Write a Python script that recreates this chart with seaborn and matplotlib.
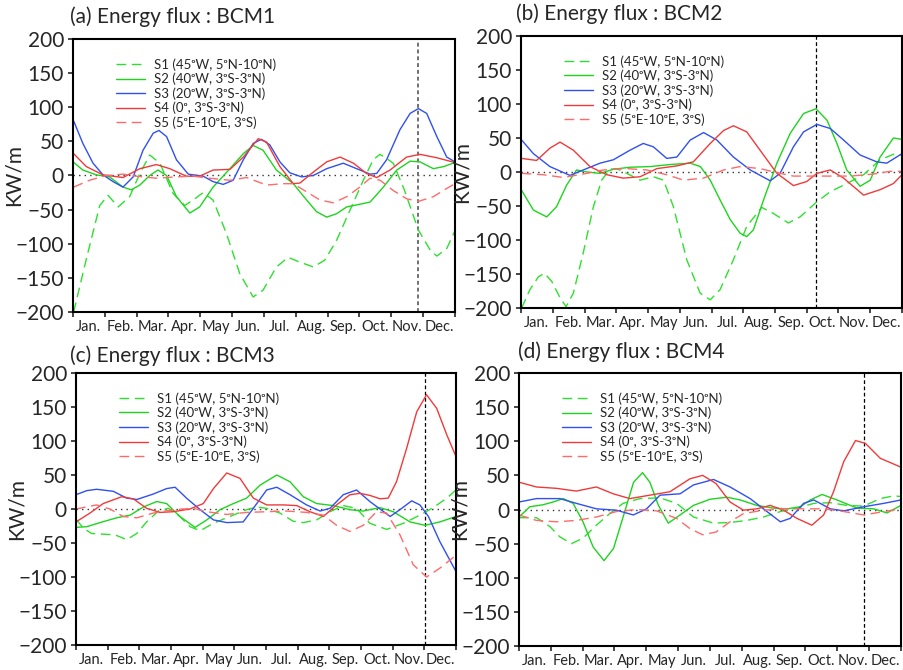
import matplotlib
matplotlib.use("Agg")
import matplotlib.pyplot as plt
import numpy as np
import pandas as pd
import seaborn as sns

sns.set_style("ticks")
plt.rcParams['font.family'] = ['Lato', 'DejaVu Sans']

# ---- data: (month position, KW/m) ----
months = ['Jan.', 'Feb.', 'Mar.', 'Apr.', 'May', 'Jun.', 'Jul.', 'Aug.', 'Sep.', 'Oct.', 'Nov.', 'Dec.']
series_names = ['S1 (45ᵒW, 5ᵒN-10ᵒN)',
                'S2 (40ᵒW, 3ᵒS-3ᵒN)',
                'S3 (20ᵒW, 3ᵒS-3ᵒN)',
                'S4 (0ᵒ, 3ᵒS-3ᵒN)',
                'S5 (5ᵒE-10ᵒE, 3ᵒS)']
panel_titles = ['(a) Energy flux : BCM1', '(b) Energy flux : BCM2',
                '(c) Energy flux : BCM3', '(d) Energy flux : BCM4']
marker_month = [10.84, 9.28, 11.03, 10.85]   # vertical dashed line

# BCM1
a_s1 = [(0.02, -200), (0.42, -122), (0.84, -44), (1.10, -29), (1.42, -46), (1.78, -31), (2.10, 3),
        (2.41, 30), (2.73, 18), (3.14, -26), (3.51, -44), (3.83, -34), (4.09, -25), (4.40, -36),
        (4.82, -85), (5.24, -144), (5.66, -178), (5.97, -168), (6.39, -134), (6.76, -120), (7.13, -127),
        (7.55, -134), (7.91, -124), (8.28, -95), (8.70, -51), (9.12, -7), (9.43, 23), (9.64, 31),
        (9.85, 25), (10.06, 18), (10.40, -20), (10.85, -80), (11.23, -110), (11.43, -118), (11.74, -107),
        (12.0, -81)]
a_s2 = [(0.0, 20), (0.31, 8), (0.73, 1), (1.15, -2), (1.57, -17), (1.83, -21), (2.10, -14), (2.41, 0),
        (2.67, 8), (2.94, 0), (3.25, -31), (3.67, -55), (3.98, -46), (4.40, -17), (4.93, 10), (5.35, 32),
        (5.66, 44), (5.97, 37), (6.39, 8), (6.92, -12), (7.34, -36), (7.65, -53), (7.97, -61), (8.28, -56),
        (8.60, -46), (8.92, -43), (9.33, -39), (9.75, -17), (10.17, 8), (10.59, 21), (10.90, 20),
        (11.32, 10), (11.64, 13), (12.0, 19)]
a_s3 = [(0.02, 80), (0.31, 47), (0.63, 18), (0.94, 1), (1.26, -9), (1.57, -17), (1.89, -2), (2.20, 37),
        (2.52, 62), (2.70, 66), (2.94, 57), (3.25, 23), (3.62, 2), (4.09, -1), (4.40, -9), (4.72, -13),
        (5.03, -7), (5.35, 23), (5.66, 47), (5.92, 53), (6.18, 45), (6.50, 20), (6.81, 4), (7.18, -2),
        (7.55, 0), (7.97, 10), (8.49, 18), (8.91, 10), (9.33, 2), (9.54, 3), (9.85, 23), (10.27, 67),
        (10.59, 91), (10.85, 98), (11.11, 91), (11.43, 57), (11.74, 27), (12.0, 20)]
a_s4 = [(0.02, 32), (0.42, 13), (0.94, 1), (1.57, -3), (2.10, 10), (2.62, 16), (3.04, 10), (3.56, -1),
        (3.98, -1), (4.40, 8), (4.93, 9), (5.35, 27), (5.82, 54), (6.08, 49), (6.50, 13), (6.92, -12),
        (7.13, -11), (7.55, 5), (7.97, 20), (8.39, 27), (8.81, 18), (9.22, 3), (9.54, -3), (9.96, 8),
        (10.48, 27), (10.90, 31), (11.43, 26), (12.0, 19)]
a_s5 = [(0.02, -17), (0.52, -7), (1.05, 0), (1.57, 2), (1.99, -1), (2.62, -4), (3.25, -2), (3.77, -1),
        (4.30, -4), (4.93, -7), (5.45, -3), (6.08, -14), (6.60, -12), (6.92, -12), (7.34, -24),
        (7.76, -36), (8.18, -40), (8.60, -31), (9.01, -17), (9.33, -4), (9.65, -7), (10.06, -22),
        (10.48, -34), (10.85, -38), (11.32, -31), (11.74, -19), (12.0, -12)]

# BCM2
b_s1 = [(0.02, -200), (0.28, -173), (0.55, -154), (0.74, -149), (0.97, -161), (1.23, -185), (1.42, -198),
        (1.65, -178), (1.96, -119), (2.28, -51), (2.54, -12), (2.80, 4), (3.01, 5), (3.33, -2), (3.75, -12),
        (4.17, -7), (4.49, -12), (4.80, -51), (5.22, -129), (5.64, -178), (5.96, -188), (6.27, -173),
        (6.69, -129), (7.11, -80), (7.58, -52), (7.95, -61), (8.42, -75), (8.79, -66), (9.29, -45),
        (9.74, -29), (10.26, -17), (10.79, -4), (11.31, 18), (11.73, 26), (12.0, 25)]
b_s2 = [(0.02, -27), (0.39, -56), (0.81, -66), (1.12, -51), (1.44, -19), (1.75, 3), (2.07, 0), (2.49, -2),
        (2.91, 4), (3.43, 7), (4.07, 8), (4.70, 11), (5.33, 13), (5.65, 8), (5.96, -12), (6.27, -41),
        (6.59, -70), (6.90, -90), (7.11, -95), (7.32, -85), (7.64, -41), (8.06, 13), (8.48, 57), (8.90, 86),
        (9.29, 93), (9.64, 76), (9.95, 42), (10.26, 3), (10.68, -21), (11.00, -12), (11.31, 22),
        (11.73, 50), (12.0, 48)]
b_s3 = [(0.02, 47), (0.39, 27), (0.91, 8), (1.54, -5), (1.96, 3), (2.49, 13), (2.91, 18), (3.43, 32),
        (3.85, 42), (4.17, 37), (4.59, 20), (4.91, 22), (5.33, 47), (5.75, 58), (6.17, 47), (6.69, 22),
        (7.22, 3), (7.85, -13), (8.16, -2), (8.58, 37), (8.90, 59), (9.32, 70), (9.74, 64), (10.16, 47),
        (10.68, 25), (11.20, 15), (11.52, 13), (12.0, 27)]
b_s4 = [(0.02, 20), (0.49, 17), (0.91, 35), (1.23, 44), (1.65, 32), (2.17, 8), (2.70, -4), (3.22, -9),
        (3.75, -7), (4.28, 5), (4.91, 9), (5.43, 15), (5.96, 42), (6.38, 61), (6.69, 68), (7.11, 59),
        (7.53, 32), (8.06, -2), (8.58, -20), (9.00, -14), (9.32, -2), (9.74, 3), (10.16, -9), (10.79, -34),
        (11.31, -26), (11.73, -17), (12.0, -4)]
b_s5 = [(0.02, -2), (0.70, -4), (1.33, -8), (1.96, -3), (2.59, 3), (3.33, 5), (3.96, 3), (4.59, -4),
        (5.12, -12), (5.75, -9), (6.38, 3), (6.90, 8), (7.53, 5), (8.06, -1), (8.58, -6), (9.32, -6),
        (10.37, -6), (11.10, -3), (11.63, 1), (12.0, 1)]

# BCM3
c_s1 = [(0.0, -15), (0.23, -28), (0.49, -36), (0.86, -37), (1.23, -38), (1.60, -45), (1.92, -36),
        (2.23, -19), (2.60, -3), (2.92, 1), (3.28, -11), (3.60, -26), (3.92, -32), (4.34, -21), (4.86, -11),
        (5.39, -1), (5.71, 3), (6.02, 1), (6.44, -6), (6.86, -18), (7.18, -20), (7.60, -16), (8.02, -4),
        (8.44, 5), (8.86, 1), (9.28, -21), (9.81, -30), (10.34, -21), (10.86, -9), (11.28, 2),
        (11.71, 16), (12.0, 28)]
c_s2 = [(0.0, -27), (0.34, -26), (0.76, -20), (1.28, -13), (1.71, -9), (2.13, 3), (2.55, 11), (2.86, 8),
        (3.28, -11), (3.76, -27), (4.13, -16), (4.55, -1), (4.97, 8), (5.39, 16), (5.81, 35), (6.34, 50),
        (6.76, 40), (7.18, 18), (7.60, 8), (8.13, 5), (8.65, -1), (9.07, -3), (9.60, 2), (10.02, -4),
        (10.55, -19), (11.02, -24), (11.49, -19), (12.0, -11)]
c_s3 = [(0.0, 21), (0.34, 27), (0.65, 29), (1.18, 26), (1.60, 16), (1.92, 14), (2.44, 22), (2.86, 30),
        (3.13, 32), (3.49, 16), (3.92, -1), (4.34, -16), (4.76, -20), (5.28, -19), (5.60, 1), (6.02, 28),
        (6.34, 32), (6.76, 21), (7.28, 6), (7.71, -3), (8.02, 1), (8.44, 21), (8.86, 28), (9.28, 11),
        (9.92, -11), (10.23, -1), (10.60, 12), (10.86, 6), (11.13, -11), (11.49, -48), (12.0, -92)]
c_s4 = [(0.0, -19), (0.44, -6), (0.86, 8), (1.44, 18), (1.81, 15), (2.23, 1), (2.65, -5), (3.07, -4),
        (3.60, 0), (4.02, 8), (4.34, 30), (4.76, 53), (5.18, 45), (5.60, 16), (6.02, 6), (6.55, 6),
        (6.97, 5), (7.39, -4), (7.81, -11), (8.23, 6), (8.65, 21), (8.97, 23), (9.28, 20), (9.60, 15),
        (9.86, 16), (10.12, 40), (10.44, 89), (10.76, 143), (11.07, 168), (11.39, 148), (11.71, 109),
        (12.0, 77)]
c_s5 = [(0.0, 0), (0.65, 6), (1.07, 0), (1.49, -11), (1.92, -13), (2.44, -6), (3.07, -1), (3.71, 1),
        (4.13, -4), (4.76, -8), (5.39, -5), (6.02, -4), (6.65, -3), (7.28, -5), (7.81, -9), (8.23, -24),
        (8.65, -33), (9.07, -24), (9.49, -4), (9.81, -6), (10.23, -38), (10.65, -82), (11.07, -100),
        (11.49, -87), (12.0, -68)]

# BCM4
d_s1 = [(0.0, -12), (0.55, -12), (0.97, -25), (1.28, -40), (1.65, -50), (2.01, -42), (2.43, -23),
        (2.85, -6), (3.27, 9), (3.80, 16), (4.43, 17), (4.95, 9), (5.48, -11), (6.11, -20), (6.63, -19),
        (7.16, -16), (7.68, -11), (8.21, -3), (8.73, 2), (9.26, 9), (9.78, 10), (10.30, 6), (10.83, 5),
        (11.35, 16), (11.77, 20), (12.0, 19)]
d_s2 = [(0.0, -11), (0.34, 4), (0.76, 7), (1.07, 11), (1.39, 16), (1.70, 9), (2.01, -18), (2.33, -55),
        (2.67, -75), (2.97, -57), (3.29, -8), (3.60, 40), (3.88, 54), (4.11, 40), (4.38, 6), (4.69, -20),
        (5.06, -8), (5.48, 6), (6.00, 15), (6.53, 18), (6.95, 14), (7.47, 6), (8.00, 2), (8.42, 1),
        (8.84, 4), (9.15, 14), (9.52, 22), (9.99, 14), (10.62, 2), (11.14, 1), (11.56, -5), (12.0, 6)]
d_s3 = [(0.0, 11), (0.55, 16), (1.28, 16), (1.80, 9), (2.43, 1), (3.06, -1), (3.59, -8), (4.01, 1),
        (4.43, 21), (5.06, 23), (5.48, 36), (6.11, 44), (6.63, 33), (7.26, 16), (7.79, -3), (8.21, -18),
        (8.52, -13), (8.94, 9), (9.26, 14), (9.78, 1), (10.20, -2), (10.83, 4), (11.46, 9), (12.0, 14)]
d_s4 = [(0.0, 40), (0.55, 33), (1.18, 31), (1.80, 27), (2.43, 33), (2.96, 23), (3.48, 16), (4.11, 21),
        (4.74, 26), (5.37, 45), (5.77, 50), (6.19, 38), (6.63, 11), (7.05, -1), (7.47, 1), (7.89, 6),
        (8.31, -1), (8.73, -13), (9.20, -23), (9.57, -8), (9.88, 26), (10.20, 70), (10.57, 101),
        (10.88, 97), (11.35, 75), (12.0, 62)]
d_s5 = [(0.0, -8), (0.55, -16), (1.18, -18), (1.80, -16), (2.43, -11), (3.06, -3), (3.69, 0), (4.32, -2),
        (4.95, -13), (5.37, -28), (5.77, -37), (6.19, -33), (6.63, -18), (7.05, -6), (7.68, -1), (8.31, 1),
        (9.03, 1), (9.57, 1), (10.20, -3), (10.83, -8), (11.46, -3), (12.0, 1)]

panels = [[a_s1, a_s2, a_s3, a_s4, a_s5], [b_s1, b_s2, b_s3, b_s4, b_s5],
          [c_s1, c_s2, c_s3, c_s4, c_s5], [d_s1, d_s2, d_s3, d_s4, d_s5]]

# line styles per series
colors = ['#2ee02e', '#1ed41e', '#3050f0', '#f03a3a', '#ff6a6a']
dashed = [True, False, False, False, True]

# axes placement in pixels (left, top, right, bottom) on a 904x670 canvas
W, H = 904, 670
boxes = [(73, 39, 455, 312), (521, 36, 902, 308), (76, 373, 456, 645), (519, 373, 901, 646)]
title_pos = [(70, 17), (516, 14), (70, 356), (518, 352)]

fig = plt.figure(figsize=(W / 100, H / 100), dpi=100)

for k in range(4):
    l, t, r, b = boxes[k]
    ax = fig.add_axes([l / W, 1 - b / H, (r - l) / W, (b - t) / H])

    for i, pts in enumerate(panels[k]):
        df = pd.DataFrame(pts, columns=['month', 'flux'])
        sns.lineplot(data=df, x='month', y='flux', ax=ax, color=colors[i], lw=1.0,
                     estimator=None, sort=False, label=series_names[i])
        if dashed[i]:
            ax.lines[-1].set_dashes((7, 4))

    # zero line and marker line
    ax.axhline(0, color='#333333', lw=1.0, ls=(0, (1, 3)), zorder=1)
    if k == 0:
        ax.axvline(marker_month[k], color='#707070', lw=1.4, ls=(0, (2, 1.5)), zorder=1)
    else:
        ax.axvline(marker_month[k], color='black', lw=0.9, ls=(0, (3, 2)), zorder=1)

    ax.set_xlim(0, 12)
    ax.set_ylim(-200, 200)
    ax.set_yticks(np.arange(-200, 201, 50))
    ax.set_xticks(np.arange(0, 13, 1))
    ax.set_xticklabels([])
    ax.set_xticks(np.arange(0.5, 12, 1), minor=True)
    ax.set_xticklabels(months, minor=True, fontsize=10.5)
    ax.tick_params(axis='x', which='minor', length=0, pad=6)
    ax.tick_params(axis='x', which='major', length=3.5, width=1.2, direction='out')
    ax.tick_params(axis='y', labelsize=15, length=3.5, width=1.2, pad=3)
    for s in ax.spines.values():
        s.set_linewidth(1.5)
        s.set_color('black')

    ax.set_xlabel('')
    ax.set_ylabel('KW/m', fontsize=15)
    ax.yaxis.set_label_coords(-0.13, 0.5)

    ax.legend(loc='upper left', bbox_to_anchor=(0.113, 0.93), frameon=False, fontsize=9.5,
              handlelength=2.2, handletextpad=0.7, labelspacing=0.15, borderpad=0, borderaxespad=0)

    tx, ty = title_pos[k]
    fig.text(tx / W, 1 - ty / H, panel_titles[k], fontsize=15, va='center', ha='left')

fig.savefig('out.png', dpi=100)
